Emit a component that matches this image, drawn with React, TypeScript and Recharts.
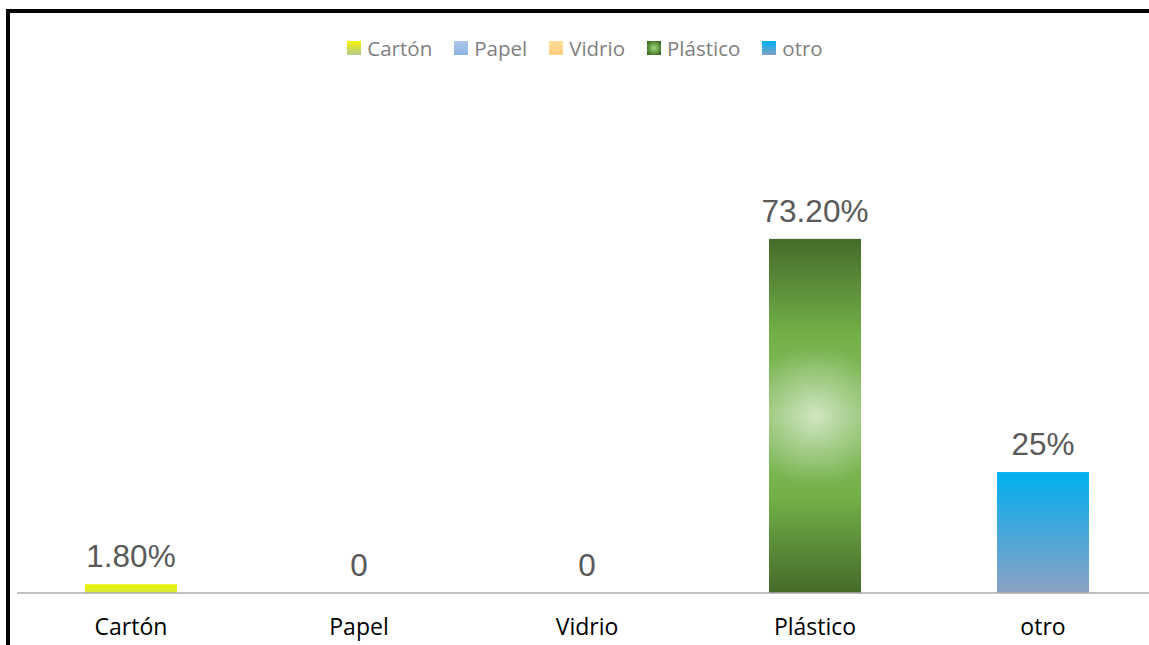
import React from "react";
import { BarChart, Bar, XAxis, YAxis, LabelList, Cell, Legend } from "recharts";

const categories = ["Cartón", "Papel", "Vidrio", "Plástico", "otro"];
const values = [1.8, 0, 0, 73.2, 25];
const valueLabels = ["1.80%", "0", "0", "73.20%", "25%"];
const barFills = ["url(#gCarton)", "url(#gPapel)", "url(#gVidrio)", "url(#gPlastico)", "url(#gOtro)"];
const legendFills = ["url(#lCarton)", "url(#lPapel)", "url(#lVidrio)", "url(#lPlastico)", "url(#lOtro)"];

const data = categories.map((name, i) => ({ name, value: values[i], label: valueLabels[i] }));

const BarShape = (props: any) => {
  const { x, y, width, height, fill, payload } = props;
  if (height <= 0) return null;
  if (payload && payload.name === "Plástico") {
    const cx = x + width / 2;
    const cy = y + height / 2;
    return (
      <g>
        <defs>
          <radialGradient id="plasticoGlow" gradientUnits="userSpaceOnUse" cx={cx} cy={cy} r={70}>
            <stop offset="0" stopColor="#ffffff" stopOpacity={0.6} />
            <stop offset="0.45" stopColor="#ffffff" stopOpacity={0.3} />
            <stop offset="1" stopColor="#ffffff" stopOpacity={0} />
          </radialGradient>
        </defs>
        <rect x={x} y={y} width={width} height={height} fill={fill} />
        <rect x={x} y={y} width={width} height={height} fill="url(#plasticoGlow)" />
      </g>
    );
  }
  return <rect x={x} y={y} width={width} height={height} fill={fill} />;
};

const LegendContent = () => (
  <div
    style={{
      display: "flex",
      justifyContent: "center",
      alignItems: "center",
      height: 28,
      fontFamily: "'Open Sans', sans-serif",
      fontSize: 20.5,
      lineHeight: "28px",
      color: "#7f7f7f",
    }}
  >
    <svg width={0} height={0} style={{ position: "absolute" }}>
      <defs>
        <linearGradient id="lCarton" x1="0" y1="0" x2="0" y2="1">
          <stop offset="0" stopColor="#f5f500" />
          <stop offset="1" stopColor="#b4c890" />
        </linearGradient>
        <linearGradient id="lPapel" x1="0" y1="0" x2="0" y2="1">
          <stop offset="0" stopColor="#adc8ea" />
          <stop offset="1" stopColor="#8db2df" />
        </linearGradient>
        <linearGradient id="lVidrio" x1="0" y1="0" x2="0" y2="1">
          <stop offset="0" stopColor="#ffdc98" />
          <stop offset="1" stopColor="#ffd07c" />
        </linearGradient>
        <radialGradient id="lPlastico" cx="0.5" cy="0.5" r="0.6">
          <stop offset="0" stopColor="#a8d488" />
          <stop offset="0.5" stopColor="#6aa543" />
          <stop offset="1" stopColor="#3c6626" />
        </radialGradient>
        <linearGradient id="lOtro" x1="0" y1="0" x2="0" y2="1">
          <stop offset="0" stopColor="#00b0f0" />
          <stop offset="1" stopColor="#809fc6" />
        </linearGradient>
      </defs>
    </svg>
    {categories.map((c, i) => (
      <div
        key={c}
        style={{
          display: "flex",
          alignItems: "center",
          flexShrink: 0,
          marginRight: i < categories.length - 1 ? 22 : 0,
        }}
      >
        <svg width={14} height={14} style={{ marginRight: 6, display: "block", flexShrink: 0 }}>
          <rect x={0} y={0} width={14} height={14} fill={legendFills[i]} />
        </svg>
        <span style={{ whiteSpace: "nowrap" }}>{c}</span>
      </div>
    ))}
  </div>
);

export default function App() {
  return (
    <div
      style={{
        position: "fixed",
        left: 0,
        top: 0,
        width: 1149,
        height: 645,
        overflow: "hidden",
        background: "#ffffff",
      }}
    >
      <div
        style={{
          position: "absolute",
          left: 6,
          top: 9,
          width: 2000,
          height: 2000,
          borderTop: "4px solid #000",
          borderLeft: "4px solid #000",
        }}
      />
      <div style={{ position: "absolute", left: 0, top: 0 }}>
        <BarChart
          width={1170}
          height={645}
          data={data}
          margin={{ top: 178, right: 13, bottom: 0, left: 17 }}
        >
          <defs>
            <linearGradient id="gCarton" x1="0" y1="0" x2="0" y2="1">
              <stop offset="0" stopColor="#eef200" />
              <stop offset="1" stopColor="#d6ea40" />
            </linearGradient>
            <linearGradient id="gPapel" x1="0" y1="0" x2="0" y2="1">
              <stop offset="0" stopColor="#adc8ea" />
              <stop offset="1" stopColor="#8db2df" />
            </linearGradient>
            <linearGradient id="gVidrio" x1="0" y1="0" x2="0" y2="1">
              <stop offset="0" stopColor="#ffdc98" />
              <stop offset="1" stopColor="#ffd07c" />
            </linearGradient>
            <linearGradient id="gPlastico" x1="0" y1="0" x2="0" y2="1">
              <stop offset="0" stopColor="#466b2b" />
              <stop offset="0.27" stopColor="#72b047" />
              <stop offset="0.5" stopColor="#8cc068" />
              <stop offset="0.73" stopColor="#72b047" />
              <stop offset="1" stopColor="#456a2a" />
            </linearGradient>
            <linearGradient id="gOtro" x1="0" y1="0" x2="0" y2="1">
              <stop offset="0" stopColor="#00b0f0" />
              <stop offset="0.5" stopColor="#47a7da" />
              <stop offset="1" stopColor="#8ba2c2" />
            </linearGradient>
          </defs>
          <Legend
            verticalAlign="top"
            align="center"
            content={<LegendContent />}
            wrapperStyle={{ top: 34, left: 0, width: 1170 }}
          />
          <XAxis
            dataKey="name"
            height={52}
            tickLine={false}
            tickMargin={20}
            axisLine={{ stroke: "#ababab", strokeWidth: 1.5 }}
            tick={{ fill: "#000000", fontSize: 23, fontFamily: "'Open Sans', sans-serif" }}
            interval={0}
          />
          <YAxis hide domain={[0, 80]} />
          <Bar dataKey="value" barSize={92} isAnimationActive={false} shape={<BarShape />}>
            {data.map((d, i) => (
              <Cell key={d.name} fill={barFills[i]} />
            ))}
            <LabelList
              dataKey="label"
              position="top"
              offset={17}
              fill="#595959"
              fontSize={31.5}
              fontFamily="'Liberation Sans', Arial, sans-serif"
            />
          </Bar>
        </BarChart>
      </div>
    </div>
  );
}
